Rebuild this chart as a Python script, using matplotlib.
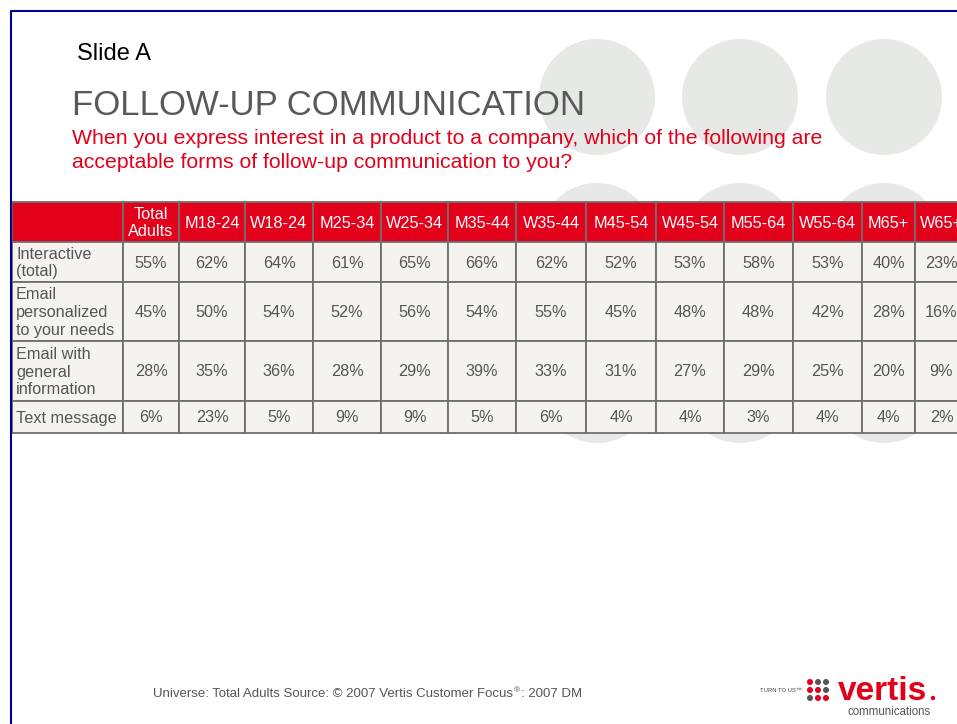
import matplotlib
matplotlib.use('Agg')
import matplotlib.pyplot as plt
from matplotlib.patches import Rectangle, Circle

plt.rcParams['font.family'] = ['Liberation Sans', 'DejaVu Sans']

# table data
col_labels = ['Total\nAdults', 'M18-24', 'W18-24', 'M25-34', 'W25-34', 'M35-44',
              'W35-44', 'M45-54', 'W45-54', 'M55-64', 'W55-64', 'M65+', 'W65+']
row_labels = ['Interactive\n(total)', 'Email\npersonalized\nto your needs',
              'Email with\ngeneral\ninformation', 'Text message']
interactive = [55, 62, 64, 61, 65, 66, 62, 52, 53, 58, 53, 40, 23]
email_personal = [45, 50, 54, 52, 56, 54, 55, 45, 48, 48, 42, 28, 16]
email_general = [28, 35, 36, 28, 29, 39, 33, 31, 27, 29, 25, 20, 9]
text_message = [6, 23, 5, 9, 9, 5, 6, 4, 4, 3, 4, 4, 2]
values = [interactive, email_personal, email_general, text_message]

RED = '#E2001A'
GRID = '#6F6F6F'
CELL = '#F4F3F0'
TXT = '#555555'

fig = plt.figure(figsize=(9.57, 7.24), dpi=100)
ax = fig.add_axes([0, 0, 1, 1])
ax.set_xlim(0, 957)
ax.set_ylim(724, 0)
ax.axis('off')

# background circles
for cy in [97, 241, 385]:
    for cx in [597, 740, 884]:
        ax.add_patch(Circle((cx, cy), 58, color='#E6E9E6', lw=0, zorder=0))

# slide frame
ax.plot([10.5, 10.5, 960], [730, 10.5, 10.5], color='#00008B', lw=1.5, zorder=5)

ax.text(77, 60, 'Slide A', fontsize=17, color='black', va='baseline')
ax.text(72, 115, 'FOLLOW-UP COMMUNICATION', fontsize=25, color='#595959', va='baseline')
ax.text(72, 144, 'When you express interest in a product to a company, which of the following are',
        fontsize=15.3, color=RED, va='baseline')
ax.text(72, 168, 'acceptable forms of follow-up communication to you?',
        fontsize=15.3, color=RED, va='baseline')

# table layout
col_edges = [12, 123, 179, 245, 313, 381, 448, 516, 586, 656, 724, 793, 862, 915, 968]
row_edges = [202, 242, 282, 341, 401, 433]
fs = 11.7

for r in range(len(row_edges) - 1):
    y0, y1 = row_edges[r], row_edges[r + 1]
    for c in range(len(col_edges) - 1):
        x0, x1 = col_edges[c], col_edges[c + 1]
        fc = RED if r == 0 else CELL
        ax.add_patch(Rectangle((x0, y0), x1 - x0, y1 - y0, facecolor=fc,
                               edgecolor=GRID, lw=1.3, zorder=2))
        xm, ym = (x0 + x1) / 2, (y0 + y1) / 2
        if r == 0:
            if c > 0:
                ax.text(xm, ym + 1, col_labels[c - 1], ha='center', va='center',
                        color='white', fontsize=fs, linespacing=1.1, zorder=3)
        elif c == 0:
            ax.text(x0 + 4, ym + 1, row_labels[r - 1], ha='left', va='center',
                    color=TXT, fontsize=fs, linespacing=1.22, zorder=3)
        else:
            ax.text(xm, ym + 1, f'{values[r - 1][c - 1]}%', ha='center', va='center',
                    color=TXT, fontsize=fs, zorder=3)

# footer
foot = ax.text(153, 697, 'Universe: Total Adults Source: \u00a9 2007 Vertis Customer Focus',
               fontsize=9.55, color='#555555', va='baseline')
ax.annotate('\u00ae', xy=(1, 0), xycoords=foot, xytext=(0.3, 4),
            textcoords='offset points', fontsize=6, color='#555555', va='bottom')
ax.annotate(': 2007 DM', xy=(1, 0), xycoords=foot, xytext=(5.5, 0),
            textcoords='offset points', fontsize=9.55, color='#555555', va='bottom')

# logo
ax.text(760, 692, 'TURN TO US\u2122', fontsize=4.2, color='#444444', va='baseline')
dot_colors = [[RED, '#555555', '#555555'],
              [RED, RED, '#555555'],
              ['#555555', RED, RED]]
for i, cy in enumerate([682, 690, 698]):
    for j, cx in enumerate([810, 818, 826]):
        ax.add_patch(Circle((cx, cy), 3.0, color=dot_colors[i][j], lw=0))
ax.text(838, 700, 'vertis', fontsize=24, fontweight='bold', color=RED, va='baseline')
ax.add_patch(Circle((933, 698), 2.2, color=RED, lw=0))
ax.text(848, 715, 'communications', fontsize=8.3, color='#555555', va='baseline')

fig.savefig('out.png', dpi=100)
